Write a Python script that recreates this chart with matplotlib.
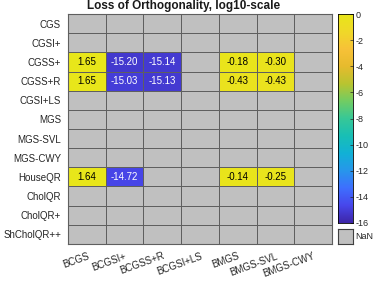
import numpy as np
import matplotlib.pyplot as plt
from matplotlib.colors import LinearSegmentedColormap
from matplotlib.transforms import ScaledTranslation

plt.rcParams['font.family'] = ['Liberation Sans', 'DejaVu Sans']

rows = ['CGS', 'CGSI+', 'CGSS+', 'CGSS+R', 'CGSI+LS', 'MGS', 'MGS-SVL',
        'MGS-CWY', 'HouseQR', 'CholQR', 'CholQR+', 'ShCholQR++']
cols = ['BCGS', 'BCGSI+', 'BCGSS+R', 'BCGSI+LS', 'BMGS', 'BMGS-SVL', 'BMGS-CWY']

nan = np.nan
cgss_p = [1.65, -15.20, -15.14, nan, -0.18, -0.30, nan]
cgss_r = [1.65, -15.03, -15.13, nan, -0.43, -0.43, nan]
houseqr = [1.64, -14.72, nan, nan, -0.14, -0.25, nan]

cbar_ticks = [0, -2, -4, -6, -8, -10, -12, -14, -16]

# parula-like colormap
parula_pts = [
    (0.2422, 0.1504, 0.6603), (0.2803, 0.2782, 0.9221), (0.2440, 0.4358, 0.9988),
    (0.1540, 0.5902, 0.9218), (0.0689, 0.6948, 0.8394), (0.0964, 0.7500, 0.7120),
    (0.2161, 0.7843, 0.5923), (0.4456, 0.8024, 0.3909), (0.7242, 0.7698, 0.1910),
    (0.9035, 0.7330, 0.1774), (0.9700, 0.7600, 0.2200), (0.9400, 0.8500, 0.1600),
    (0.9100, 0.9000, 0.1000),
]
cmap = LinearSegmentedColormap.from_list('parula', parula_pts, N=256)
nan_color = '#c0c0c0'
grid_color = '#5f5f5f'
cmap.set_bad(nan_color)

data = np.full((len(rows), len(cols)), np.nan)
data[rows.index('CGSS+')] = cgss_p
data[rows.index('CGSS+R')] = cgss_r
data[rows.index('HouseQR')] = houseqr
vmin, vmax = -16, 0

fig = plt.figure(figsize=(3.74, 2.83), dpi=100)
ax = fig.add_axes([68 / 374, 39 / 283, 264 / 374, 230 / 283])
ax.pcolormesh(np.ma.masked_invalid(data), cmap=cmap, vmin=vmin, vmax=vmax,
              edgecolors=grid_color, linewidth=0.6)
ax.set_xlim(0, len(cols))
ax.set_ylim(len(rows), 0)
for sp in ax.spines.values():
    sp.set_color(grid_color)
    sp.set_linewidth(0.8)

for i in range(len(rows)):
    for j in range(len(cols)):
        v = data[i, j]
        if np.isnan(v):
            continue
        color = 'white' if v < -8 else 'black'
        ax.text(j + 0.5, i + 0.5, f'{v:.2f}', ha='center', va='center',
                fontsize=7, color=color)

ax.set_xticks(np.arange(len(cols)) + 0.5)
ax.set_xticklabels(cols, rotation=20, ha='right', rotation_mode='anchor', fontsize=7)
shift = ScaledTranslation(0.06, 0, fig.dpi_scale_trans)
for lbl in ax.get_xticklabels():
    lbl.set_transform(lbl.get_transform() + shift)
ax.set_yticks(np.arange(len(rows)) + 0.5)
ax.set_yticklabels(rows, fontsize=7)
ax.tick_params(length=0, pad=5, colors='#262626')
fig.text(0.492, 0.999, 'Loss of Orthogonality, log10-scale', fontsize=8.5,
         fontweight='bold', ha='center', va='top', color='#1a1a1a')

# colorbar
cax = fig.add_axes([338 / 374, 60 / 283, 15 / 374, 209 / 283])
grad = np.linspace(vmin, vmax, 256).reshape(-1, 1)
cax.imshow(grad, aspect='auto', cmap=cmap, origin='lower',
           extent=[0, 1, vmin, vmax])
cax.set_xticks([])
cax.yaxis.tick_right()
cax.set_yticks(cbar_ticks)
cax.set_yticklabels([str(t) for t in cbar_ticks], fontsize=6.5)
cax.tick_params(axis='y', direction='in', length=2, width=0.5, pad=2, colors='#262626')
for sp in cax.spines.values():
    sp.set_linewidth(0.6)

# NaN box
nax = fig.add_axes([338 / 374, 39 / 283, 15 / 374, 15 / 283])
nax.set_facecolor(nan_color)
nax.set_xticks([])
nax.set_yticks([])
for sp in nax.spines.values():
    sp.set_linewidth(0.8)
    sp.set_color('#404040')
nax.text(1.15, 0.5, 'NaN', transform=nax.transAxes, ha='left', va='center',
         fontsize=6.5, color='#262626')

fig.savefig('out.png', dpi=100)
